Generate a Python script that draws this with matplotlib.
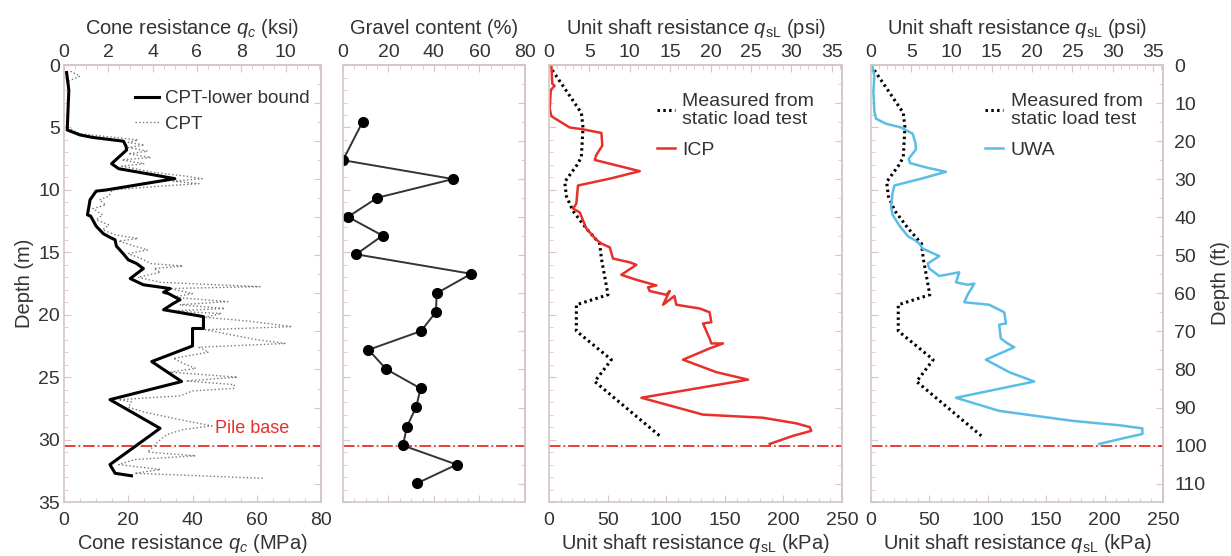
import numpy as np
import matplotlib
matplotlib.use("Agg")
import matplotlib.pyplot as plt
from matplotlib.ticker import MultipleLocator

plt.rcParams['font.family'] = ['Liberation Sans', 'DejaVu Sans']
plt.rcParams['mathtext.fontset'] = 'custom'
plt.rcParams['mathtext.rm'] = 'Liberation Sans'
plt.rcParams['mathtext.it'] = 'Liberation Sans:italic'

# ---- data (depth in m) ----
# CPT lower bound (MPa)
lb_depth = [0.6, 2.0, 5.2, 5.6, 5.8, 6.1, 6.5, 6.8, 7.9, 8.3, 9.1, 10.0, 10.1, 10.8, 12.0,
            12.1, 12.9, 13.5, 13.8, 14.0, 14.5, 15.1, 15.6, 15.9, 16.3, 17.1, 17.6, 17.9,
            18.2, 18.3, 18.8, 19.1, 19.6, 20.15, 21.1, 21.1, 22.5, 23.75, 25.35, 26.8,
            29.1, 32.0, 32.7, 32.9]
lb_qc = [0.8, 1.5, 1.0, 5.0, 9.0, 18.5, 19.3, 19.5, 14.8, 17.0, 34.5, 13.3, 10.0, 8.1, 7.3,
         8.3, 10.0, 12.2, 14.3, 15.9, 16.3, 18.4, 20.0, 22.6, 24.7, 20.6, 24.7, 33.0,
         31.0, 32.5, 36.1, 34.0, 31.0, 43.4, 43.4, 40.0, 40.0, 27.3, 36.6, 14.3,
         29.9, 14.3, 15.9, 21.0]

# CPT raw trace (MPa)
cpt_depth = [0.5, 0.9, 1.1, 1.3, 2.0, 5.0, 5.5, 6.0, 6.2, 6.4, 6.6, 6.9, 7.1, 7.4, 7.6, 7.9,
             8.1, 8.6, 8.9, 9.1, 9.3, 9.5, 9.7, 10.0, 10.5, 10.8, 11.2, 11.5, 12.0, 12.4,
             12.8, 13.2, 13.6, 13.9, 14.1, 14.5, 14.8, 15.1, 15.5, 15.9, 16.1, 16.3, 16.6,
             17.0, 17.4, 17.75, 17.9, 18.3, 18.6, 18.95, 19.2, 19.5, 19.7, 19.9, 20.2, 20.5,
             20.95, 21.2, 21.6, 22.0, 22.3, 22.6, 23.0, 23.5, 24.0, 24.3, 24.6, 25.0, 25.3,
             25.6, 25.9, 26.1, 26.5, 26.8, 27.0, 27.4, 27.8, 28.4, 28.9, 29.2, 29.6, 30.0,
             30.5, 31.0, 31.3, 31.6, 32.0, 32.4, 32.7, 33.1]
cpt_qc = [2, 5, 3, 1.5, 1.5, 1, 5, 23, 20, 25, 20, 26, 20, 27, 18, 25,
          18, 28, 38, 43, 34, 42, 30, 15, 14, 11, 13, 9, 12, 10,
          14, 12, 16, 23, 17, 22, 26, 20, 24, 27, 37, 28, 30,
          23, 30, 61, 33, 40, 34, 51, 36, 50, 33, 49, 44, 57,
          71, 44, 52, 60, 69, 42, 45, 34, 38, 41, 33, 54, 38,
          53, 53, 40, 36, 17, 21, 20, 25, 36, 46, 37, 32, 30,
          28, 26, 41, 22, 17, 30, 22, 62]

# gravel content (%)
gravel_depth = [4.53, 7.62, 9.13, 10.63, 12.16, 13.66, 15.16, 16.72, 18.28, 19.78, 21.31,
                22.81, 24.37, 25.9, 27.4, 28.96, 30.47, 32.0, 33.5]
gravel_pct = [8.7, 0.0, 48.4, 15.1, 2.2, 17.4, 5.8, 56.4, 41.2, 40.9, 34.3,
              11.2, 19.1, 34.1, 32.2, 28.1, 26.4, 50.0, 32.6]

# measured unit shaft resistance (kPa)
meas_depth = [0.41, 3.84, 5.0, 7.33, 7.9, 9.36, 10.5, 11.7, 13.1, 14.3, 15.5, 18.4, 19.2,
              21.3, 23.6, 25.35, 25.9, 29.7]
meas_qs = [2.8, 27.6, 29.0, 27.6, 24.7, 13.4, 14.8, 20.5, 31.9, 43.2, 44.7, 50.3, 23.3,
           23.3, 53.2, 39.0, 46.0, 94.4]

# ICP method (kPa)
icp_depth = [0.0, 1.5, 1.66, 2.0, 3.5, 4.1, 5.0, 5.15, 5.44, 6.45, 7.2, 7.6, 7.9, 8.5, 9.07,
             9.65, 11.1, 11.5, 11.8, 13.1, 14.0, 14.3, 14.6, 15.5, 15.8, 16.0, 16.8, 17.2,
             17.65, 17.8, 18.1, 18.4, 18.1, 19.2, 18.5, 19.2, 19.5, 19.8, 20.6, 20.7, 21.9,
             22.3, 22.3, 22.7, 23.6, 24.6, 25.2, 26.65, 28.0, 28.25, 28.7, 29.0, 29.3, 29.7,
             30.35]
icp_qs = [2.0, 2.8, 4.8, 1.5, 0.6, 2.0, 17.6, 29.0, 44.7, 45.5, 40.4, 39.0, 51.8, 77.4, 53.2,
          24.7, 23.3, 20.5, 26.2, 31.9, 40.4, 44.7, 51.8, 54.6, 68.8, 74.5, 61.7, 74.5,
          91.6, 84.5, 85.9, 100.0, 103.0, 97.3, 107.0, 108.6, 128.6, 137.0, 138.5, 131.4, 137.0,
          138.5, 148.5, 137.0, 114.3, 142.8, 169.8, 78.8, 131.4, 182.6, 211.0, 222.4, 223.8, 208.2,
          188.3]

# UWA method (kPa)
uwa_depth = [0.0, 0.9, 2.1, 3.7, 4.3, 4.7, 5.0, 5.5, 6.2, 6.75, 7.5, 7.85, 8.2, 8.55, 9.07,
             9.65, 10.2, 11.4, 12.0, 12.85, 13.7, 14.0, 14.3, 14.7, 15.3, 15.9, 16.3, 16.9,
             16.6, 17.4, 17.6, 17.5, 18.4, 19.0, 19.2, 19.8, 20.7, 20.8, 21.9, 22.3, 22.6,
             23.6, 24.6, 25.35, 26.65, 27.7, 28.5, 28.85, 29.1, 29.55, 29.85, 30.35]
uwa_qs = [0.9, 2.8, 2.0, 2.8, 4.3, 12.8, 25.7, 35.6, 37.9, 38.5, 32.2, 33.4, 47.0, 64.1, 44.2,
          20.0, 18.5, 17.1, 18.5, 24.2, 31.4, 37.0, 41.3, 44.2, 58.4, 48.5, 49.9, 58.4,
          75.5, 72.7, 82.7, 88.4, 82.7, 79.8, 101.2, 114.0, 115.5, 109.7, 111.1, 116.9, 122.6,
          98.3, 118.3, 139.7, 72.7, 109.7, 172.5, 212.4, 232.3, 232.3, 218.0, 195.3]

pile_base = 30.48
MPA_PER_KSI = 6.895
KPA_PER_PSI = 6.895
FT_PER_M = 3.2808

frame_col = '#d6c6c6'
txt_col = '#333333'
red = '#e8302a'
blue = '#5bbde6'
TICK_FS = 14
LAB_FS = 14.5
LEG_FS = 14

fig = plt.figure(figsize=(12.31, 5.56), dpi=100)
bot, top = 0.0971, 0.883
h = top - bot
ax1 = fig.add_axes([0.052, bot, 0.2088, h])
ax2 = fig.add_axes([0.2786, bot, 0.1478, h])
ax3 = fig.add_axes([0.446, bot, 0.238, h])
ax4 = fig.add_axes([0.7076, bot, 0.2372, h])
axes = [ax1, ax2, ax3, ax4]


def style(ax):
    for s in ax.spines.values():
        s.set_color(frame_col)
        s.set_linewidth(1.2)
    ax.tick_params(which='both', direction='in', color=frame_col, labelcolor=txt_col,
                   labelsize=TICK_FS, pad=3)
    ax.tick_params(which='major', length=5)
    ax.tick_params(which='minor', length=3)


for ax in axes:
    ax.set_ylim(35, 0)
    ax.yaxis.set_major_locator(MultipleLocator(5))
    ax.yaxis.set_minor_locator(MultipleLocator(1))
    style(ax)
    ax.tick_params(axis='x', which='major', pad=7)
    # ft ticks on the right edge
    sec = ax.secondary_yaxis('right', functions=(lambda d: d * FT_PER_M, lambda f: f / FT_PER_M))
    sec.yaxis.set_major_locator(MultipleLocator(10))
    sec.yaxis.set_minor_locator(MultipleLocator(5))
    style(sec)
    if ax is ax4:
        sec.set_ylabel('Depth (ft)', fontsize=LAB_FS, color=txt_col, labelpad=3)
        sec.tick_params(which='major', pad=8)
    else:
        sec.tick_params(labelright=False)
    ax.axhline(pile_base, color=red, lw=1.3, ls='-.')
    if ax is not ax1:
        ax.tick_params(labelleft=False)

# panel 1: cone resistance
ax1.plot(cpt_qc, cpt_depth, color='#777777', lw=1.0, ls=':', label='CPT')
ax1.plot(lb_qc, lb_depth, color='black', lw=2.2, label='CPT-lower bound')
ax1.set_xlim(0, 80)
ax1.xaxis.set_major_locator(MultipleLocator(20))
ax1.xaxis.set_minor_locator(MultipleLocator(5))
ax1.set_xlabel('Cone resistance $q_c$ (MPa)', fontsize=LAB_FS, color=txt_col, labelpad=2)
ax1.set_ylabel('Depth (m)', fontsize=LAB_FS, color=txt_col, labelpad=3)
ax1.text(58.5, pile_base - 0.7, 'Pile base', color=red, fontsize=13, ha='center', va='bottom')
h1, l1 = ax1.get_legend_handles_labels()
ax1.legend(h1[::-1], l1[::-1], loc='upper right', bbox_to_anchor=(0.955, 0.943), frameon=False,
           fontsize=LEG_FS - 0.5, handlelength=1.3, handletextpad=0.3, labelspacing=0.45,
           labelcolor=txt_col, borderaxespad=0, borderpad=0)
t1 = ax1.secondary_xaxis('top', functions=(lambda x: x / MPA_PER_KSI, lambda x: x * MPA_PER_KSI))
t1.xaxis.set_major_locator(MultipleLocator(2))
t1.xaxis.set_minor_locator(MultipleLocator(0.5))
style(t1)
t1.set_xlabel('Cone resistance $q_c$ (ksi)', fontsize=LAB_FS, color=txt_col, labelpad=7)

# panel 2: gravel content
ax2.plot(gravel_pct, gravel_depth, color='#333333', lw=1.4, marker='o', ms=7,
         mfc='black', mec='black')
ax2.set_xlim(0, 80)
ax2.xaxis.set_major_locator(MultipleLocator(20))
ax2.xaxis.set_minor_locator(MultipleLocator(5))
ax2.tick_params(labelbottom=False)
t2 = ax2.secondary_xaxis('top')
t2.xaxis.set_major_locator(MultipleLocator(20))
t2.xaxis.set_minor_locator(MultipleLocator(5))
style(t2)
t2.set_xlabel('Gravel content (%)', fontsize=LAB_FS, color=txt_col, labelpad=7)

# panels 3 and 4: shaft resistance
for ax, qs, dep, col, lab, lx in [(ax3, icp_qs, icp_depth, red, 'ICP', 0.905),
                                  (ax4, uwa_qs, uwa_depth, blue, 'UWA', 0.93)]:
    ax.plot(meas_qs, meas_depth, color='black', lw=2.2, ls=(0, (0.8, 1.1)),
            label='Measured from\nstatic load test')
    ax.plot(qs, dep, color=col, lw=1.8, label=lab)
    ax.set_xlim(0, 250)
    ax.xaxis.set_major_locator(MultipleLocator(50))
    ax.xaxis.set_minor_locator(MultipleLocator(10))
    ax.set_xlabel('Unit shaft resistance $q_{\\mathrm{sL}}$ (kPa)', fontsize=LAB_FS,
                  color=txt_col, labelpad=2)
    leg = ax.legend(loc='upper right', bbox_to_anchor=(lx, 0.936), frameon=False, fontsize=LEG_FS,
                    handlelength=0.9, handletextpad=0.4, labelspacing=0.7, labelcolor=txt_col,
                    borderaxespad=0, borderpad=0)
    for t in leg.get_texts():
        t.set_linespacing(1.05)
    tp = ax.secondary_xaxis('top', functions=(lambda x: x / KPA_PER_PSI, lambda x: x * KPA_PER_PSI))
    tp.xaxis.set_major_locator(MultipleLocator(5))
    tp.xaxis.set_minor_locator(MultipleLocator(1))
    style(tp)
    tp.set_xlabel('Unit shaft resistance $q_{\\mathrm{sL}}$ (psi)', fontsize=LAB_FS,
                  color=txt_col, labelpad=7)

fig.savefig('out.png', dpi=100, facecolor='white')
